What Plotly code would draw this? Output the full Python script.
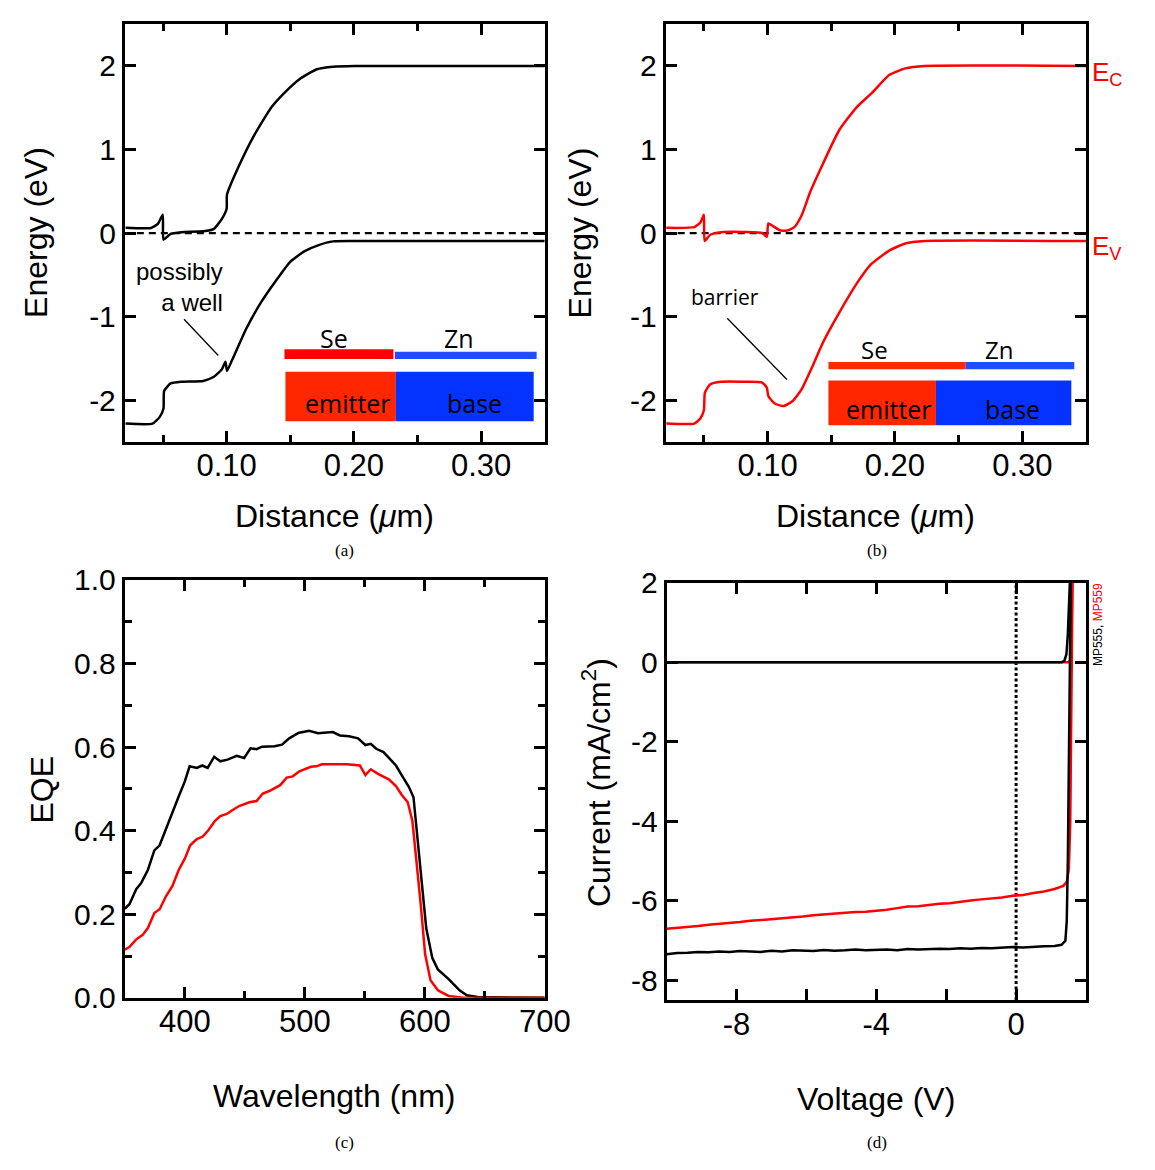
import plotly.graph_objects as go

W, H = 1155, 1170

# ================= DATA =================
# (a) band diagram (black)
a_ec_x = [0.0206, 0.0404, 0.046, 0.0498, 0.0504, 0.056, 0.0645, 0.0816, 0.090, 0.0963, 0.100, 0.1003,
          0.1099, 0.1213, 0.1355, 0.1496, 0.158, 0.171, 0.1837, 0.2007, 0.35]
a_ec_y = [0.062, 0.06, 0.11, 0.22, -0.08, -0.01, 0.01, 0.02, 0.05, 0.17, 0.29, 0.46,
          0.81, 1.16, 1.51, 1.74, 1.85, 1.96, 1.99, 2.0, 2.0]
a_ev_x = [0.0206, 0.0418, 0.0475, 0.0504, 0.0509, 0.056, 0.0645, 0.0816, 0.090, 0.0963, 0.0991, 0.1003,
          0.1043, 0.1156, 0.127, 0.1383, 0.1496, 0.161, 0.1723, 0.1837, 0.2007, 0.35]
a_ev_y = [-2.28, -2.28, -2.2, -2.1, -1.89, -1.80, -1.78, -1.77, -1.72, -1.63, -1.54, -1.65,
          -1.52, -1.14, -0.83, -0.58, -0.35, -0.22, -0.145, -0.10, -0.096, -0.096]

# (b) band diagram (red)
b_ec_x = [0.0205, 0.0424, 0.0472, 0.050, 0.0506, 0.055, 0.0635, 0.083, 0.0958, 0.0994, 0.1006, 0.1042,
          0.1098, 0.1154, 0.121, 0.1267, 0.1337, 0.1435, 0.1562, 0.1702, 0.1815, 0.1955, 0.2081, 0.2236, 0.35]
b_ec_y = [0.062, 0.07, 0.125, 0.22, -0.095, -0.02, 0.01, 0.012, 0.0, -0.045, 0.116, 0.083,
          0.033, 0.03, 0.07, 0.21, 0.50, 0.83, 1.23, 1.51, 1.67, 1.89, 1.97, 2.0, 2.0]
b_ev_x = [0.0205, 0.0424, 0.0472, 0.050, 0.0508, 0.055, 0.0635, 0.083, 0.0958, 0.0994, 0.1006, 0.1056,
          0.1126, 0.1197, 0.1267, 0.1351, 0.1435, 0.1562, 0.1702, 0.1815, 0.1955, 0.2081, 0.2236, 0.35]
b_ev_y = [-2.28, -2.28, -2.22, -2.12, -1.91, -1.81, -1.78, -1.78, -1.79, -1.85, -1.95, -2.04,
          -2.07, -2.01, -1.87, -1.60, -1.31, -0.955, -0.60, -0.37, -0.21, -0.125, -0.095, -0.095]

# (c) EQE
c_wl_k = [350, 354, 359.5, 363.7, 369.2, 374.6, 379, 384.3, 389.7, 394.9, 400, 404, 410, 414.5, 419,
          424.5, 429.6, 435.6, 443.2, 449.5, 454.7, 459.8, 464.4, 474.9, 481, 487, 494.6, 503.6, 511,
          523.3, 529.3, 536.9, 544.4, 550.5, 555, 559.5, 565.6, 570, 576, 582, 586.7, 590.6, 594.3,
          598.2, 601.2, 606.3, 610.9, 619.9, 629, 635, 644, 700]
c_eqe_k = [0.213, 0.225, 0.26, 0.275, 0.306, 0.353, 0.365, 0.405, 0.441, 0.482, 0.518, 0.554, 0.55,
           0.556, 0.55, 0.577, 0.566, 0.57, 0.579, 0.574, 0.597, 0.595, 0.601, 0.602, 0.606, 0.621,
           0.634, 0.639, 0.633, 0.636, 0.628, 0.626, 0.621, 0.605, 0.608, 0.596, 0.588, 0.574, 0.556,
           0.527, 0.505, 0.48, 0.365, 0.248, 0.167, 0.095, 0.068, 0.045, 0.018, 0.006, 0.002, 0.0]
c_wl_r = [350, 354, 359.5, 364.7, 369.2, 374.6, 379, 384.3, 389.7, 394.9, 400, 404.5, 410, 415,
          419.6, 425, 429.6, 435, 440.2, 445.3, 453.8, 459.8, 465, 470.4, 479.5, 484.9, 490, 495.5,
          505.1, 509.7, 514.2, 526.3, 535.3, 545.9, 550.5, 555, 561, 570, 576, 580.7, 585.8, 589.7,
          592.7, 596.4, 600.3, 604.8, 610.9, 619.9, 632, 700]
c_eqe_r = [0.115, 0.122, 0.14, 0.15, 0.167, 0.203, 0.212, 0.243, 0.268, 0.306, 0.333, 0.365, 0.38,
           0.386, 0.401, 0.423, 0.435, 0.44, 0.45, 0.459, 0.468, 0.471, 0.489, 0.495, 0.509, 0.527,
           0.53, 0.542, 0.553, 0.554, 0.559, 0.558, 0.559, 0.556, 0.533, 0.547, 0.536, 0.523, 0.507,
           0.486, 0.468, 0.423, 0.338, 0.23, 0.104, 0.042, 0.018, 0.0045, 0.0, 0.0]

# (d) J-V
d_v_k = [-10, -9.7, -9.4, -9.1, -8.8, -8.5, -8.2, -7.9, -7.6, -7.3, -7.0, -6.7, -6.4, -6.1, -5.8,
         -5.5, -5.2, -4.9, -4.6, -4.3, -4.0, -3.7, -3.4, -3.1, -2.8, -2.5, -2.2, -1.9, -1.6, -1.3,
         -1.0, -0.7, -0.4, -0.1, 0.2, 0.5, 0.8, 1.1, 1.3, 1.41, 1.45, 1.48, 1.5, 1.52, 1.54, 1.57]
d_j_k = [-7.34, -7.31, -7.30, -7.28, -7.29, -7.27, -7.28, -7.26, -7.27, -7.28, -7.25, -7.27, -7.24,
         -7.25, -7.26, -7.23, -7.25, -7.24, -7.22, -7.24, -7.23, -7.22, -7.24, -7.21, -7.22, -7.21,
         -7.20, -7.21, -7.19, -7.20, -7.18, -7.19, -7.17, -7.16, -7.17, -7.15, -7.14, -7.13, -7.10,
         -7.0, -6.5, -5.0, -3.0, -1.2, 0.3, 2.5]
d_v_r = [-10, -9.7, -9.4, -9.1, -8.8, -8.5, -8.2, -7.9, -7.6, -7.3, -7.0, -6.7, -6.4, -6.1, -5.8,
         -5.5, -5.2, -4.9, -4.6, -4.3, -4.0, -3.7, -3.4, -3.1, -2.8, -2.5, -2.2, -1.9, -1.6, -1.3,
         -1.0, -0.7, -0.4, -0.1, 0.2, 0.5, 0.8, 1.1, 1.35, 1.45, 1.51, 1.55, 1.58, 1.6, 1.62]
d_j_r = [-6.70, -6.68, -6.65, -6.63, -6.60, -6.58, -6.55, -6.53, -6.50, -6.48, -6.46, -6.43, -6.41,
         -6.39, -6.36, -6.34, -6.31, -6.30, -6.28, -6.27, -6.25, -6.22, -6.18, -6.14, -6.13, -6.10,
         -6.07, -6.06, -6.02, -5.99, -5.96, -5.94, -5.91, -5.87, -5.85, -5.80, -5.76, -5.70, -5.62,
         -5.52, -5.2, -4.0, -1.5, 0.5, 2.5]
d_v_dark_k = [-10, 1.3, 1.38, 1.44, 1.48, 1.52, 1.56]
d_j_dark_k = [0, 0, 0.03, 0.2, 0.7, 1.5, 2.5]
d_v_dark_r = [-10, 1.5, 1.55, 1.58, 1.6, 1.62]
d_j_dark_r = [0, 0, 0.05, 0.5, 1.5, 2.5]

# tick labels
ab_y_ticks = [-2, -1, 0, 1, 2]
ab_y_text = ["-2", "-1", "0", "1", "2"]
ab_x_ticks = [0.10, 0.20, 0.30]
ab_x_text = ["0.10", "0.20", "0.30"]
c_y_ticks = [0.0, 0.2, 0.4, 0.6, 0.8, 1.0]
c_y_text = ["0.0", "0.2", "0.4", "0.6", "0.8", "1.0"]
c_x_ticks = [400, 500, 600, 700]
c_x_text = ["400", "500", "600", "700"]
d_y_ticks = [-8, -6, -4, -2, 0, 2]
d_y_text = ["-8", "-6", "-4", "-2", "0", "2"]
d_x_ticks = [-8, -4, 0]
d_x_text = ["-8", "-4", "0"]

# ================= FIGURE =================
def fx(p):
    return p / W


def fy(p):
    return 1 - p / H


FONT = "Liberation Sans"
fig = go.Figure()

LW = 2.5
SM = dict(shape="spline", smoothing=0.5)
fig.add_trace(go.Scatter(x=a_ec_x, y=a_ec_y, xaxis="x", yaxis="y", mode="lines",
                         line=dict(color="black", width=LW, **SM)))
fig.add_trace(go.Scatter(x=a_ev_x, y=a_ev_y, xaxis="x", yaxis="y", mode="lines",
                         line=dict(color="black", width=LW, **SM)))
fig.add_trace(go.Scatter(x=b_ec_x, y=b_ec_y, xaxis="x2", yaxis="y2", mode="lines",
                         line=dict(color="#ff0000", width=LW, **SM)))
fig.add_trace(go.Scatter(x=b_ev_x, y=b_ev_y, xaxis="x2", yaxis="y2", mode="lines",
                         line=dict(color="#ff0000", width=LW, **SM)))
fig.add_trace(go.Scatter(x=c_wl_k, y=c_eqe_k, xaxis="x3", yaxis="y3", mode="lines",
                         line=dict(color="black", width=LW)))
fig.add_trace(go.Scatter(x=c_wl_r, y=c_eqe_r, xaxis="x3", yaxis="y3", mode="lines",
                         line=dict(color="#ff0000", width=LW)))
fig.add_trace(go.Scatter(x=d_v_dark_r, y=d_j_dark_r, xaxis="x4", yaxis="y4", mode="lines",
                         line=dict(color="#ff0000", width=LW)))
fig.add_trace(go.Scatter(x=d_v_dark_k, y=d_j_dark_k, xaxis="x4", yaxis="y4", mode="lines",
                         line=dict(color="black", width=LW)))
fig.add_trace(go.Scatter(x=d_v_r, y=d_j_r, xaxis="x4", yaxis="y4", mode="lines",
                         line=dict(color="#ff0000", width=LW)))
fig.add_trace(go.Scatter(x=d_v_k, y=d_j_k, xaxis="x4", yaxis="y4", mode="lines",
                         line=dict(color="black", width=LW)))

XTF = dict(family=FONT, size=31, color="black")
YTF = dict(family=FONT, size=30, color="black")


def ax(domain, anchor, rng, tv, tt, tf, minor_vals=None, minor_len=7, standoff=0):
    d = dict(domain=domain, anchor=anchor, range=rng, showline=True, linewidth=3,
             linecolor="black", mirror="ticks", ticks="inside", ticklen=11, tickwidth=3,
             tickcolor="black", tickmode="array", tickvals=tv, ticktext=tt, tickfont=tf,
             showgrid=False, zeroline=False, fixedrange=True, ticklabelstandoff=standoff)
    if minor_vals:
        d["minor"] = dict(tickmode="array", tickvals=minor_vals, ticks="inside", ticklen=minor_len,
                          tickwidth=3, tickcolor="black", showgrid=False)
    return d


dom_ax = [fx(127.7), fx(557.3)]
dom_bx = [fx(681), fx(1111)]
dom_ty = [fy(437.3), fy(7.3)]
dom_cy = [fy(1009.3), fy(579.3)]
dom_dy = [fy(1012), fy(582)]
XS = -6

fig.update_layout(
    width=W, height=H, margin=dict(l=0, r=0, t=0, b=0),
    paper_bgcolor="white", plot_bgcolor="white", showlegend=False,
    xaxis=ax(dom_ax, "y", [0.02, 0.35], ab_x_ticks, ab_x_text, XTF, [0.05, 0.15, 0.25], standoff=XS),
    yaxis=ax(dom_ty, "x", [-2.5, 2.5], ab_y_ticks, ab_y_text, YTF),
    xaxis2=ax(dom_bx, "y2", [0.02, 0.35], ab_x_ticks, ab_x_text, XTF, [0.05, 0.15, 0.25], standoff=XS),
    yaxis2=ax(dom_ty, "x2", [-2.5, 2.5], ab_y_ticks, ab_y_text, YTF),
    xaxis3=ax(dom_ax, "y3", [350, 700], c_x_ticks, c_x_text, XTF, [450, 550, 650], standoff=XS),
    yaxis3=ax(dom_cy, "x3", [0, 1], c_y_ticks, c_y_text, YTF, [0.1, 0.3, 0.5, 0.7, 0.9]),
    xaxis4=ax([fx(682), fx(1111)], "y4", [-10, 2], d_x_ticks, d_x_text, XTF, [-6, -2],
              minor_len=11, standoff=XS),
    yaxis4=ax(dom_dy, "x4", [-8.5, 2], d_y_ticks, d_y_text, YTF),
)

shapes = []
# zero reference lines
for xr, yr in (("x domain", "y"), ("x2 domain", "y2")):
    shapes.append(dict(type="line", xref=xr, yref=yr, x0=0, x1=1, y0=0, y1=0,
                       line=dict(color="black", width=2.2, dash="7px,5px"), layer="below"))
shapes.append(dict(type="line", xref="x4", yref="y4 domain", x0=0, x1=0, y0=0, y1=1,
                   line=dict(color="black", width=3, dash="3px,2.5px"), layer="below"))


def rect(x0, y0, x1, y1, color):
    shapes.append(dict(type="rect", xref="paper", yref="paper", x0=fx(x0), x1=fx(x1),
                       y0=fy(y1), y1=fy(y0), fillcolor=color, line=dict(width=0)))


def seg(x0, y0, x1, y1):
    shapes.append(dict(type="line", xref="paper", yref="paper", x0=fx(x0), x1=fx(x1),
                       y0=fy(y0), y1=fy(y1), line=dict(color="black", width=1.3)))


RED_BOX = "#ff2600"
BLUE = "#0433ff"
# legend (a)
rect(291, 342, 402.5, 352, "#ff0000")
rect(404, 344.5, 549, 352, "#1f4dff")
rect(292, 365, 405, 416, RED_BOX)
rect(405, 365, 546, 416, BLUE)
# legend (b)
rect(847.5, 355, 988, 362.5, "#ff2a00")
rect(988, 355, 1099, 362.5, "#1f4dff")
rect(847.5, 374, 957.5, 420, RED_BOX)
rect(957.5, 374, 1096, 420, BLUE)
# pointer lines
seg(188.3, 311, 223.3, 348.3)
seg(744, 310, 805, 373)
fig.update_layout(shapes=shapes)

ann = []


def text(x, y, s, size, family=FONT, color="black", angle=0, xanchor="center", yanchor="middle",
         align="center"):
    ann.append(dict(x=fx(x), y=fy(y), xref="paper", yref="paper", text=s, showarrow=False,
                    font=dict(family=family, size=size, color=color), textangle=angle,
                    xanchor=xanchor, yanchor=yanchor, align=align))


# axis titles
text(342, 513, "Distance (<i>μ</i>m)", 32)
text(896, 513, "Distance (<i>μ</i>m)", 32)
text(342, 1110, "Wavelength (nm)", 32)
text(896, 1113, "Voltage (V)", 32)
text(37, 222, "Energy (eV)", 32, angle=-90)
text(593, 222, "Energy (eV)", 32, angle=-90)
text(43, 795, "EQE", 32, angle=-90)
text(610, 788, "Current (mA/cm<sup>2</sup>)", 32, angle=-90)
# panel labels
SERIF = "Liberation Serif"
text(352, 549, "(a)", 17, SERIF)
text(897, 549, "(b)", 17, SERIF)
text(352, 1158, "(c)", 17, SERIF)
text(897, 1158, "(d)", 17, SERIF)
# annotations
text(230, 278, "possibly<br>a well", 24, xanchor="right", align="right")
text(742, 288, "barrier", 21, "Open Sans")
LEG = "Open Sans"
text(342, 330, "Se", 25, LEG)
text(470, 330, "Zn", 25, LEG)
text(356, 397, "emitter", 25, LEG)
text(485, 397, "base", 25, LEG)
text(895, 342, "Se", 24, LEG)
text(1022, 342, "Zn", 24, LEG)
text(909, 403, "emitter", 25, LEG)
text(1036, 403, "base", 25, LEG)
# band labels
text(1115, 58, "E<sub>C</sub>", 26, color="#ff0000", xanchor="left")
text(1115, 237, "E<sub>V</sub>", 26, color="#ff0000", xanchor="left")
# sample names
text(1124, 625, "MP555, <span style='color:#ff0000'>MP559</span>", 12, angle=-90)

fig.update_layout(annotations=ann)
fig.write_html("out.html")
